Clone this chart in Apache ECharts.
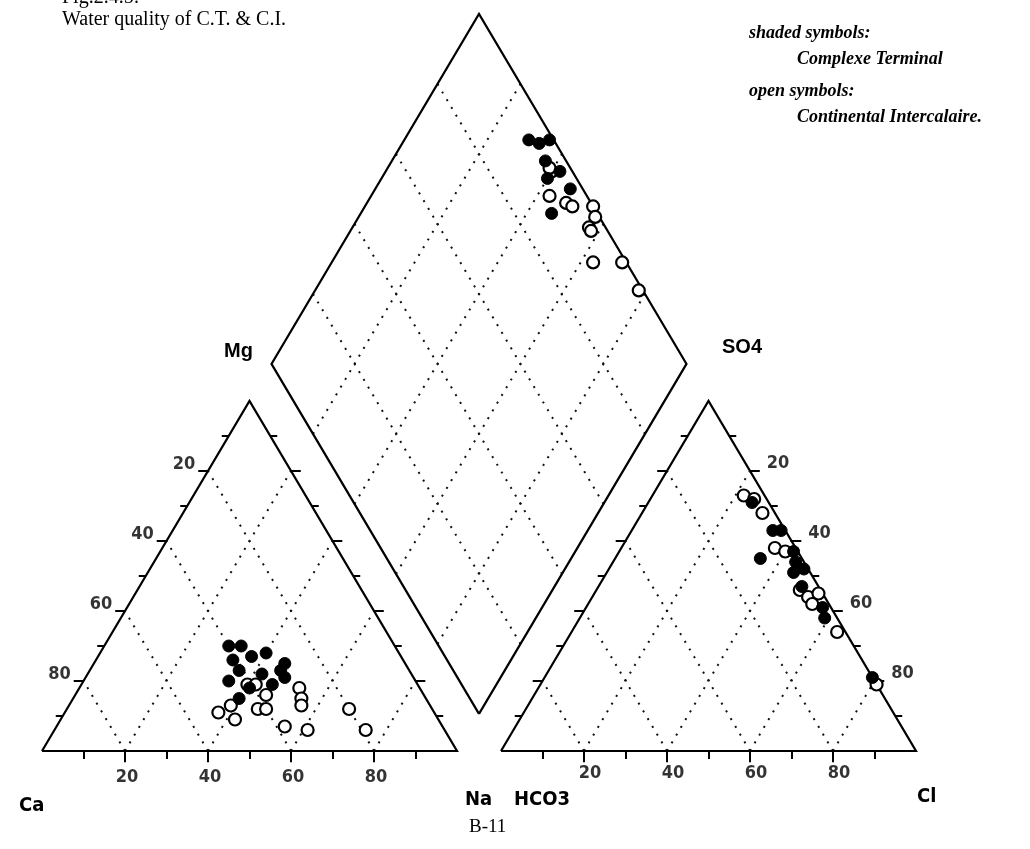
<!DOCTYPE html>
<html>
<head>
<meta charset="utf-8">
<script src="https://cdn.jsdelivr.net/npm/echarts/dist/echarts.min.js"></script>
<style>
  html, body { margin: 0; padding: 0; background: #fff; }
  #chart { width: 1030px; height: 849px; }
</style>
</head>
<body>
<div id="chart"></div>
<script>
var tickLabels = [20, 40, 60, 80];

// cations, [Na+K %, Mg %]  (Ca is the rest)
var ctCation = [[30,30],[33,30],[33,26],[37,27],[40,28],[36,23],[35,20],[46,25],[46,23],[48,21],[41,18],[46,19],[42,22],[40,15]];
var ciCation = [[37,11],[39,13],[42,9],[46,12],[48,12],[40,19],[42,19],[46,16],[53,18],[55,15],[56,13],[55,7],[61,6],[68,12],[75,6]];

// anions, [Cl %, SO4 %]  (HCO3 is the rest)
var ctAnion = [[25,71],[34,63],[36,63],[42,57],[35,55],[44,54],[45,51],[47,52],[49,47],[57,41],[59,38],[79,21]];
var ciAnion = [[22,73],[25,72],[29,68],[37,58],[40,57],[49,46],[52,44],[54,42],[54,45],[64,34],[81,19]];

// diamond, [Na+K %, SO4+Cl %]
var ctDiamond = [[30,94],[33,96],[35,99],[37,95],[42,97],[47,97],[46,89],[40,93]];
var ciDiamond = [[43,91],[40,95],[39,95],[48,94],[50,95],[55,100],[57,99],[57,96],[58,96],[63,92],[70,99],[78,99]];

var gap = 0.106;

function cat(n, m) { return [n + 0.5 * m, m]; }
function an(cl, s) { return [1 + gap + cl + 0.5 * s, s]; }
function dia(n, sc) { var y = 1 + gap + sc - n; return [n + 0.5 * y, y]; }

function pct(f) { return function (d) { return f(d[0] / 100, d[1] / 100); }; }

var frame = [
    {coords: [cat(0,0), cat(1,0), cat(0,1), cat(0,0)]},
    {coords: [an(0,0), an(1,0), an(0,1), an(0,0)]},
    {coords: [dia(1,0), dia(1,1), dia(0,1), dia(0,0), dia(1,0)]}
];

var dots = [];
for (var i = 1; i <= 4; i++) {
    var v = i / 5;
    dots.push({coords: [cat(v,0), cat(v,1-v)]});
    dots.push({coords: [cat(1-v,0), cat(0,1-v)]});
    dots.push({coords: [an(v,0), an(v,1-v)]});
    dots.push({coords: [an(1-v,0), an(0,1-v)]});
    dots.push({coords: [dia(v,0), dia(v,1)]});
    dots.push({coords: [dia(0,v), dia(1,v)]});
}

var tx = 7 / 415, ty = 8 / 350;
var ticks = [];
for (var k = 1; k <= 9; k++) {
    var t = k / 10, big = (k % 2 === 0) ? 1.4 : 1;
    var p;
    p = cat(t, 0); ticks.push({coords: [p, [p[0], p[1] - ty * big]]});
    p = an(t, 0); ticks.push({coords: [p, [p[0], p[1] - ty * big]]});
    p = cat(0, t); ticks.push({coords: [p, [p[0] - tx * big, p[1]]]});
    p = cat(1 - t, t); ticks.push({coords: [p, [p[0] + tx * big, p[1]]]});
    p = an(0, t); ticks.push({coords: [p, [p[0] - tx * big, p[1]]]});
    p = an(1 - t, t); ticks.push({coords: [p, [p[0] + tx * big, p[1]]]});
}

var narrow = '"DejaVu Sans Condensed", "Liberation Sans Narrow", "Liberation Sans", sans-serif';
var tickText = [];
tickLabels.forEach(function (v) {
    var f = v / 100;
    tickText.push({value: cat(f, 0), label: {offset: [2, 26]}, name: String(v)});
    tickText.push({value: an(f, 0), label: {offset: [6, 22]}, name: String(v)});
    tickText.push({value: cat(0, 1 - f), label: {offset: [-24, -7]}, name: String(v)});
    tickText.push({value: an(f, 1 - f), label: {offset: [28, -8]}, name: String(v)});
});

var circle = {symbol: 'circle', symbolSize: 12};
var legendFont = 'italic bold 18px "Liberation Serif"';

var chart = echarts.init(document.getElementById('chart'));
chart.setOption({
    backgroundColor: '#fff',
    animation: false,
    grid: {left: 0, right: 0, top: 0, bottom: 0},
    xAxis: {type: 'value', min: -42 / 415, max: 988 / 415, show: false},
    yAxis: {type: 'value', min: -98 / 350, max: 751 / 350, show: false},
    series: [
        {
            type: 'lines', coordinateSystem: 'cartesian2d', polyline: true,
            data: dots, silent: true,
            lineStyle: {color: '#111', width: 2, type: [2, 7], opacity: 1}
        },
        {
            type: 'lines', coordinateSystem: 'cartesian2d', polyline: true,
            data: frame, silent: true,
            lineStyle: {color: '#000', width: 2.2, opacity: 1}
        },
        {
            type: 'lines', coordinateSystem: 'cartesian2d', polyline: false,
            data: ticks, silent: true,
            lineStyle: {color: '#000', width: 2, opacity: 1}
        },
        Object.assign({
            name: 'Continental Intercalaire', type: 'scatter',
            data: ciCation.map(pct(cat)).concat(ciAnion.map(pct(an)), ciDiamond.map(pct(dia))),
            itemStyle: {color: '#fff', borderColor: '#000', borderWidth: 2.2, opacity: 1}
        }, circle),
        Object.assign({
            name: 'Complexe Terminal', type: 'scatter',
            data: ctCation.map(pct(cat)).concat(ctAnion.map(pct(an)), ctDiamond.map(pct(dia))),
            itemStyle: {color: '#000', borderColor: '#000', borderWidth: 1, opacity: 1}
        }, circle),
        {
            type: 'scatter', symbolSize: 0, silent: true,
            data: tickText,
            label: {
                show: true, position: 'inside', formatter: '{b}',
                fontFamily: narrow, fontSize: 18, fontWeight: 'bold', color: '#000'
            }
        }
    ],
    graphic: [
        {type: 'text', left: 62, top: -12, style: {text: 'Fig.2.4.5:', font: '20px "Liberation Serif"', fill: '#000'}},
        {type: 'text', left: 62, top: 10, style: {text: 'Water quality of C.T. & C.I.', font: '20px "Liberation Serif"', fill: '#000'}},
        {type: 'text', left: 749, top: 24, style: {text: 'shaded symbols:', font: legendFont, fill: '#000'}},
        {type: 'text', left: 797, top: 50, style: {text: 'Complexe Terminal', font: legendFont, fill: '#000'}},
        {type: 'text', left: 749, top: 82, style: {text: 'open symbols:', font: legendFont, fill: '#000'}},
        {type: 'text', left: 797, top: 108, style: {text: 'Continental Intercalaire.', font: legendFont, fill: '#000'}},
        {type: 'text', left: 224, top: 341, style: {text: 'Mg', font: 'bold 20px "Liberation Sans"', fill: '#000'}},
        {type: 'text', left: 722, top: 337, style: {text: 'SO4', font: 'bold 20px "Liberation Sans"', fill: '#000'}},
        {type: 'text', left: 19, top: 796, style: {text: 'Ca', font: 'bold 20px ' + narrow, fill: '#000'}},
        {type: 'text', left: 465, top: 790, style: {text: 'Na', font: 'bold 20px ' + narrow, fill: '#000'}},
        {type: 'text', left: 514, top: 790, style: {text: 'HCO3', font: 'bold 20px ' + narrow, fill: '#000'}},
        {type: 'text', left: 917, top: 787, style: {text: 'Cl', font: 'bold 20px ' + narrow, fill: '#000'}},
        {type: 'text', left: 469, top: 818, style: {text: 'B-11', font: '19px "Liberation Serif"', fill: '#000'}}
    ]
});
</script>
</body>
</html>
